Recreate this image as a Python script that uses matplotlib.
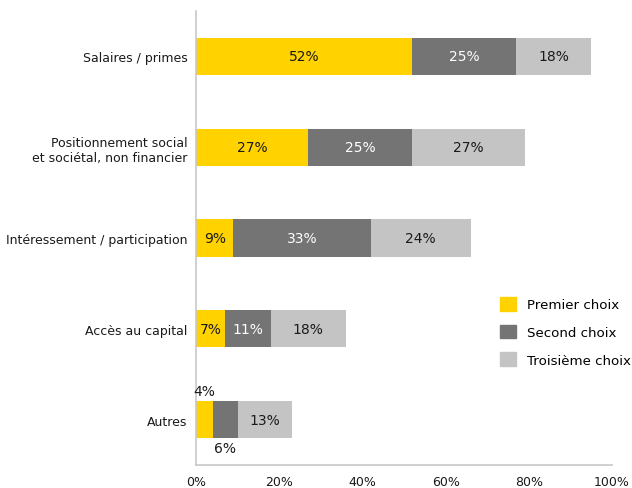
import numpy as np
from matplotlib import pyplot as plt
from matplotlib.patches import Patch

# Category labels (top to bottom) and the three choice series, in %
categories = ['Salaires / primes',
              'Positionnement social\net sociétal, non financier',
              'Intéressement / participation',
              'Accès au capital',
              'Autres']
premier = [52, 27, 9, 7, 4]
second = [25, 25, 33, 11, 6]
troisieme = [18, 27, 24, 18, 13]
series_names = ['Premier choix', 'Second choix', 'Troisième choix']
xticks = [0, 20, 40, 60, 80, 100]

colors = ['#FFD200', '#747474', '#C4C4C4']
text_colors = ['#1a1a1a', 'white', '#1a1a1a']

plt.rcParams['font.family'] = ['DejaVu Sans']

fig = plt.figure(figsize=(6.32, 4.89), dpi=100)
ax = fig.add_axes([0.3101, 0.047, 0.6583, 0.9285])

y = np.arange(len(categories))
left = np.zeros(len(categories))
for vals, c, tc, name in zip([premier, second, troisieme], colors, text_colors, series_names):
    vals = np.array(vals, dtype=float)
    ax.barh(y, vals, left=left, height=0.41, color=c, label=name)
    for i, v in enumerate(vals):
        cx = left[i] + v / 2
        if categories[i] == 'Autres' and v < 10:
            # small segments: labels outside the bar
            dy = -0.31 if c == colors[0] else 0.31
            ax.text(cx, y[i] + dy, f'{int(v)}%', ha='center', va='center',
                    fontsize=10, color='#1a1a1a')
        else:
            ax.text(cx, y[i], f'{int(v)}%', ha='center', va='center',
                    fontsize=10, color=tc)
    left += vals

ax.set_ylim(len(categories) - 0.5, -0.5)
ax.set_xlim(0, 100)
ax.set_yticks(y)
ax.set_yticklabels(categories, fontsize=9, color='#1a1a1a')
ax.set_xticks(xticks)
ax.set_xticklabels([f'{t}%' for t in xticks], fontsize=9, color='#1a1a1a')
ax.tick_params(length=0, pad=6)
ax.tick_params(axis='x', pad=7)

for s in ['top', 'right']:
    ax.spines[s].set_visible(False)
for s in ['left', 'bottom']:
    ax.spines[s].set_color('#C8C8C8')
    ax.spines[s].set_linewidth(1.2)

handles = [Patch(color=c) for c in colors]
ax.legend(handles, series_names, loc='upper left', bbox_to_anchor=(0.731, 0.37),
          frameon=False, fontsize=9.6, handlelength=1.2, handleheight=1.2,
          labelspacing=1.0, handletextpad=0.8, borderpad=0, borderaxespad=0)

fig.savefig('out.png', dpi=100)
